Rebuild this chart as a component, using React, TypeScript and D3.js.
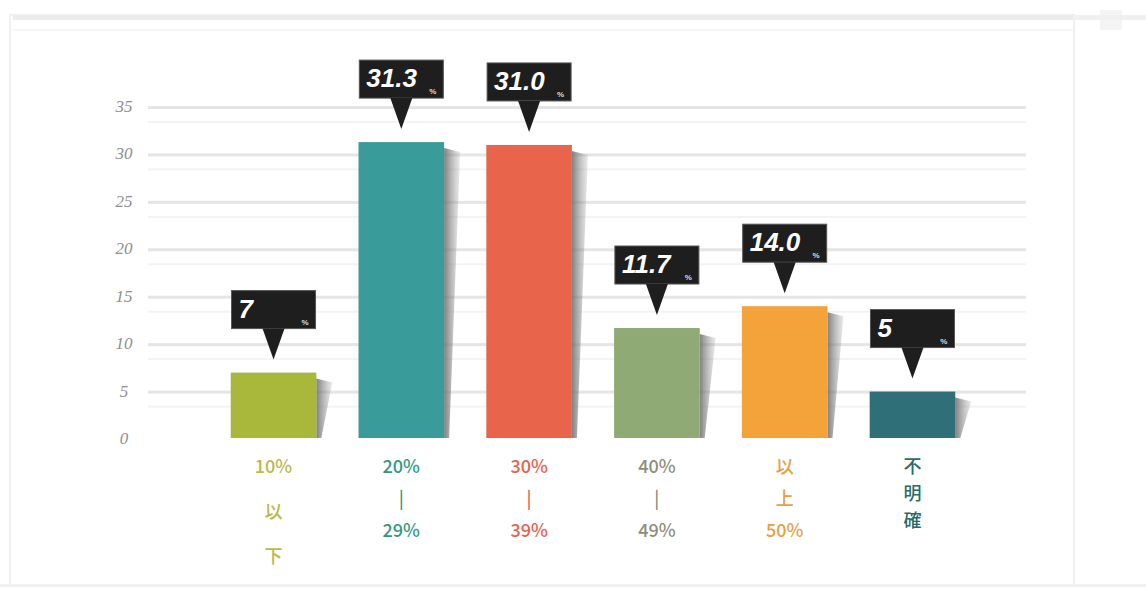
import React from "react";
import * as d3 from "d3";

const categories = ["c1", "c2", "c3", "c4", "c5", "c6"];
const values = [7, 31.3, 31.0, 11.7, 14.0, 5];
const valueLabels = ["7", "31.3", "31.0", "11.7", "14.0", "5"];
const barColors = ["#a9b83a", "#3a9b9b", "#e8654c", "#8faa74", "#f4a23a", "#2f7078"];
const labelColors = ["#b8ba4c", "#2e9a80", "#e8604e", "#8e8e7a", "#e3a244", "#2b6a66"];
const categoryLines = [
  ["10%", "以", "下"],
  ["20%", "|", "29%"],
  ["30%", "|", "39%"],
  ["40%", "|", "49%"],
  ["以", "上", "50%"],
  ["不", "明", "確"],
];
const yTicks = [0, 5, 10, 15, 20, 25, 30, 35];

export default function App() {
  const W = 1146, H = 589;
  const x = d3.scaleBand<string>().domain(categories).range([209, 977]).paddingInner(0.33).paddingOuter(0.17);
  const y = d3.scaleLinear().domain([0, 35]).range([439, 107]);
  const bw = x.bandwidth();
  const bottom = y(0) - 1;

  return (
    <svg width={W} height={H} style={{ position: "absolute", left: 0, top: 0, background: "#fff" }}>
      <defs>
        <linearGradient id="sh" x1="0" x2="1" y1="0" y2="0">
          <stop offset="0" stopColor="#6a6a6a" stopOpacity={0.85} />
          <stop offset="1" stopColor="#9a9a9a" stopOpacity={0.2} />
        </linearGradient>
      </defs>
      {/* frame */}
      <rect x={10} y={15} width={1064} height={571} fill="none" stroke="#f0f0f0" strokeWidth={2} />
      <rect x={13} y={15} width={1060} height={5} fill="#ececec" />
      <rect x={13} y={29} width={1060} height={2} fill="#f6f6f6" />
      <rect x={1100} y={10} width={22} height={20} fill="#f4f4f4" />
      <rect x={1074} y={15} width={72} height={5} fill="#f0f0f0" />
      <rect x={0} y={584} width={1146} height={3} fill="#f0f0f0" />

      {/* gridlines */}
      {yTicks.filter(t => t > 0).map(t => (
        <g key={t}>
          <rect x={148} y={y(t) - 1} width={878} height={3} fill="#e5e5e5" />
          <rect x={148} y={y(t) + 14} width={878} height={2} fill="#f3f3f3" />
        </g>
      ))}
      {/* y labels */}
      {yTicks.map(t => (
        <text key={t} x={124} y={y(t) + 5} textAnchor="middle" fontFamily="'Liberation Serif', serif"
          fontStyle="italic" fontSize={17} fill="#8e8e8e">{t}</text>
      ))}

      {/* bars */}
      {categories.map((c, i) => {
        const x0 = x(c)!;
        const x1 = x0 + bw;
        const top = y(values[i]);
        return (
          <g key={c}>
            <polygon points={`${x1},${top + 6} ${x1 + 16},${top + 10} ${x1 + 5},${bottom} ${x1},${bottom}`} fill="url(#sh)" />
            <rect x={x0} y={top} width={bw} height={bottom - top} fill={barColors[i]} />
          </g>
        );
      })}

      {/* callouts */}
      {categories.map((c, i) => {
        const cx = x(c)! + bw / 2;
        const top = y(values[i]);
        const tip = top - 13;
        const bb = tip - 31;
        const bt = bb - 38;
        const bx = cx - 42;
        return (
          <g key={c}>
            <rect x={bx} y={bt} width={84} height={38} fill="#1e1e1e" stroke="#555" strokeWidth={1} />
            <polygon points={`${cx - 11},${bb} ${cx + 11},${bb} ${cx},${tip}`} fill="#1e1e1e" />
            <text x={bx + 7} y={bt + 27} fontFamily="'Liberation Sans', Arial, sans-serif" fontWeight="bold"
              fontStyle="italic" fontSize={26} fill="#fff">{valueLabels[i]}</text>
            <text x={bx + 77} y={bb - 4} textAnchor="end" fontFamily="'Liberation Sans', Arial, sans-serif"
              fontWeight="bold" fontSize={8} fill="#ddd">%</text>
          </g>
        );
      })}

      {/* category labels */}
      {categories.map((c, i) => {
        const cx = x(c)! + bw / 2;
        const lines = categoryLines[i];
        const gap = i === 0 ? 45 : i === 5 ? 27 : 32;
        return (
          <g key={c}>
            {lines.map((l, j) => (
              <text key={j} x={cx} y={473 + j * gap} textAnchor="middle"
                fontFamily="'Noto Sans CJK JP', 'Noto Sans', sans-serif" fontSize={18} fontWeight={500}
                fill={labelColors[i]}>{l}</text>
            ))}
          </g>
        );
      })}
    </svg>
  );
}
